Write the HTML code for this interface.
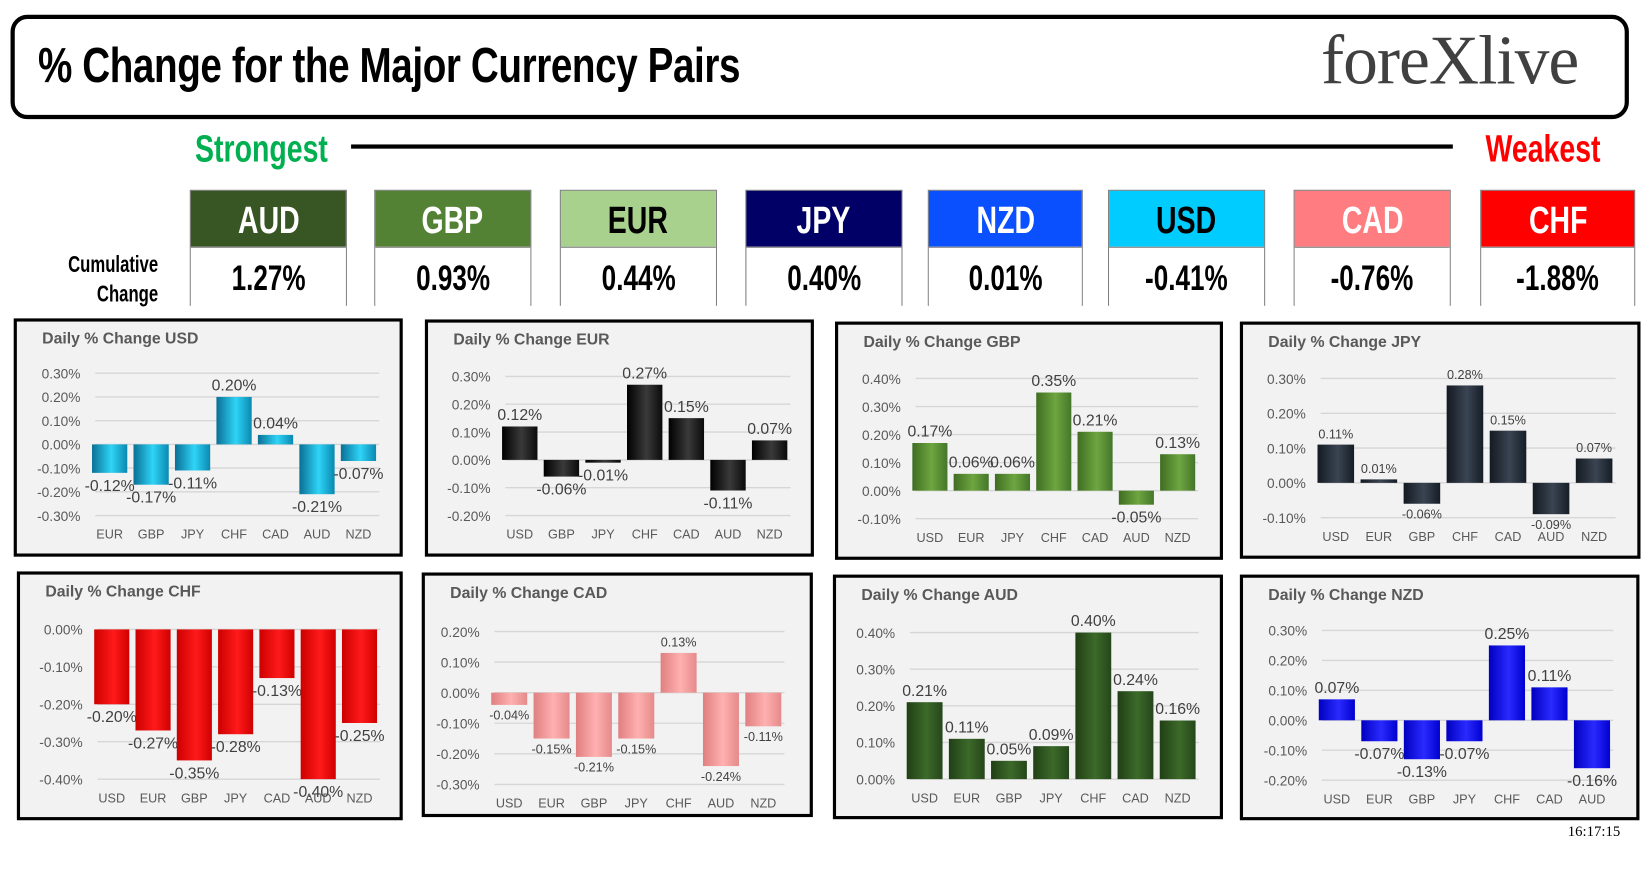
<!DOCTYPE html>
<html><head><meta charset="utf-8">
<style>
html,body{margin:0;padding:0;background:#fff;width:1650px;height:869px;overflow:hidden}
#wrap{position:absolute;left:0;top:0;width:1565px;height:824px;transform:scale(1.0543);transform-origin:0 0;font-family:"Liberation Sans",sans-serif}
.abs{position:absolute}
.hdr{left:10px;top:14px;width:1527px;height:91px;border:4px solid #000;border-radius:16px;box-sizing:content-box}
.title{left:36px;top:34px;font-weight:bold;font-size:47px;transform:scaleX(0.78);transform-origin:0 0;white-space:nowrap;letter-spacing:-0.5px}
.logo{left:1253px;top:20px;font-family:"Liberation Serif",serif;font-size:66px;color:#404040;letter-spacing:-1px}
.cond{font-weight:bold;transform:scaleX(0.72);white-space:nowrap}
.sq{display:inline-block;font-weight:bold;transform:scaleX(0.75);white-space:nowrap}
.card{width:147px;height:110px;border:1px solid #777;box-sizing:border-box}
.card .h{height:53px;line-height:55px;text-align:center;font-size:36px}
.card .v{height:56px;line-height:58px;text-align:center;font-size:33px;background:#fff;border-top:1px solid #777}
.panel{border:3px solid #000;background:#f2f2f2;box-sizing:border-box}
</style></head><body>
<div id="wrap">
<div class="abs hdr"></div>
<div class="abs title">% Change for the Major Currency Pairs</div>
<div class="abs logo">fore<span style="color:#404040">X</span>live</div>
<div class="abs cond" style="left:185px;top:120px;font-size:36px;color:#00b050;transform:scaleX(0.75);transform-origin:0 0">Strongest</div>
<div class="abs" style="left:333px;top:137px;width:1045px;height:4px;background:#000"></div>
<div class="abs cond" style="left:1409px;top:120px;font-size:36px;color:#f00;transform:scaleX(0.75);transform-origin:0 0">Weakest</div>
<div class="abs cond" style="left:0;width:150px;top:237px;font-size:22px;text-align:right;transform-origin:100% 0;line-height:28px">Cumulative<br>Change</div>
<div id="cards"></div>
<div id="panels"></div>
<div class="abs" style="left:1487px;top:782px;font-family:'Liberation Serif',serif;font-size:14px">16:17:15</div>
</div>
<script>
const cardCur=["AUD","GBP","EUR","JPY","NZD","USD","CAD","CHF"];
const cardVals=["1.27%","0.93%","0.44%","0.40%","0.01%","-0.41%","-0.76%","-1.88%"];
const cardX=[180,355,531,707,880,1051,1227,1404];
const cardBg=["#375623","#548235","#a9d18e","#000066","#0a50ff","#00ccff","#ff7c80","#ff0000"];
const cardFg=["#fff","#fff","#000","#fff","#fff","#000","#fff","#fff"];
const cc=document.getElementById('cards');
cardCur.forEach((c,i)=>{
 const d=document.createElement('div');
 d.className='abs card';d.style.left=cardX[i]+'px';d.style.top='180px';d.style.width=(i==4||i==7?147:149)+'px';
 
 
 d.innerHTML='<div class="h" style="background:'+cardBg[i]+';color:'+cardFg[i]+'"><span class="sq">'+c+'</span></div><div class="v"><span class="sq">'+cardVals[i]+'</span></div>';
 cc.appendChild(d);
});

// chart data
const usdCats=["EUR","GBP","JPY","CHF","CAD","AUD","NZD"], usdVals=[-0.12,-0.17,-0.11,0.20,0.04,-0.21,-0.07], usdTicks=[0.3,0.2,0.1,0,-0.1,-0.2,-0.3];
const eurCats=["USD","GBP","JPY","CHF","CAD","AUD","NZD"], eurVals=[0.12,-0.06,-0.01,0.27,0.15,-0.11,0.07], eurTicks=[0.3,0.2,0.1,0,-0.1,-0.2];
const gbpCats=["USD","EUR","JPY","CHF","CAD","AUD","NZD"], gbpVals=[0.17,0.06,0.06,0.35,0.21,-0.05,0.13], gbpTicks=[0.4,0.3,0.2,0.1,0,-0.1];
const jpyCats=["USD","EUR","GBP","CHF","CAD","AUD","NZD"], jpyVals=[0.11,0.01,-0.06,0.28,0.15,-0.09,0.07], jpyTicks=[0.3,0.2,0.1,0,-0.1];
const chfCats=["USD","EUR","GBP","JPY","CAD","AUD","NZD"], chfVals=[-0.20,-0.27,-0.35,-0.28,-0.13,-0.40,-0.25], chfTicks=[0,-0.1,-0.2,-0.3,-0.4];
const cadCats=["USD","EUR","GBP","JPY","CHF","AUD","NZD"], cadVals=[-0.04,-0.15,-0.21,-0.15,0.13,-0.24,-0.11], cadTicks=[0.2,0.1,0,-0.1,-0.2,-0.3];
const audCats=["USD","EUR","GBP","JPY","CHF","CAD","NZD"], audVals=[0.21,0.11,0.05,0.09,0.40,0.24,0.16], audTicks=[0.4,0.3,0.2,0.1,0];
const nzdCats=["USD","EUR","GBP","JPY","CHF","CAD","AUD"], nzdVals=[0.07,-0.07,-0.13,-0.07,0.25,0.11,-0.16], nzdTicks=[0.3,0.2,0.1,0,-0.1,-0.2];

const panels=[
 {n:"usd",x:13,y:302,w:369,h:226,cats:usdCats,vals:usdVals,ticks:usdTicks,yT:354,yB:489,x0:104,x1:340,c:["#0a6f95","#2fd4f7","#0a88b0"],s:false},
 {n:"eur",x:403,y:303,w:369,h:225,cats:eurCats,vals:eurVals,ticks:eurTicks,yT:357,yB:489,x0:493,x1:730,c:["#000","#3a3a3a","#0a0a0a"],s:false},
 {n:"gbp",x:792,y:305,w:368,h:226,cats:gbpCats,vals:gbpVals,ticks:gbpTicks,yT:359,yB:492,x0:882,x1:1117,c:["#3f6d22","#6ea640","#44762a"],s:false},
 {n:"jpy",x:1176,y:305,w:380,h:225,cats:jpyCats,vals:jpyVals,ticks:jpyTicks,yT:359,yB:491,x0:1267,x1:1512,c:["#141a22","#3a4452","#161d26"],s:true},
 {n:"chf",x:16,y:542,w:366,h:236,cats:chfCats,vals:chfVals,ticks:chfTicks,yT:597,yB:739,x0:106,x1:341,c:["#cc0000","#ff1a1a","#d00000"],s:false},
 {n:"cad",x:400,y:543,w:371,h:232,cats:cadCats,vals:cadVals,ticks:cadTicks,yT:599,yB:744,x0:483,x1:724,c:["#e07f80","#ffb0b0","#e58a8a"],s:true},
 {n:"aud",x:790,y:545,w:370,h:232,cats:audCats,vals:audVals,ticks:audTicks,yT:600,yB:739,x0:877,x1:1117,c:["#213f15","#3c6a2a","#25461a"],s:false},
 {n:"nzd",x:1176,y:545,w:379,h:233,cats:nzdCats,vals:nzdVals,ticks:nzdTicks,yT:598,yB:740,x0:1268,x1:1510,c:["#0000c0","#2a2aff","#0000d0"],s:false}
];
const titles={usd:"USD",eur:"EUR",gbp:"GBP",jpy:"JPY",chf:"CHF",cad:"CAD",aud:"AUD",nzd:"NZD"};
const NS="http://www.w3.org/2000/svg";
const pc=document.getElementById('panels');
panels.forEach(p=>{
 const d=document.createElement('div');
 d.className='abs panel';d.style.left=p.x+'px';d.style.top=p.y+'px';d.style.width=p.w+'px';d.style.height=p.h+'px';
 
 
 pc.appendChild(d);
 const svg=document.createElementNS(NS,'svg');
 svg.setAttribute('width',p.w);svg.setAttribute('height',p.h);
 svg.style.position='absolute';svg.style.left='-3px';svg.style.top='-3px';
 d.appendChild(svg);
 const ox=p.x,oy=p.y;
 const gid='g'+p.n;
 const defs=document.createElementNS(NS,'defs');
 defs.innerHTML='<linearGradient id="'+gid+'" x1="0" x2="1" y1="0" y2="0"><stop offset="0" stop-color="'+p.c[0]+'"/><stop offset="0.55" stop-color="'+p.c[1]+'"/><stop offset="1" stop-color="'+p.c[2]+'"/></linearGradient>';
 svg.appendChild(defs);
 const t=document.createElementNS(NS,'text');
 t.setAttribute('x',27);t.setAttribute('y',24);t.setAttribute('font-size','15');t.setAttribute('font-weight','bold');t.setAttribute('fill','#595959');
 t.textContent='Daily % Change '+titles[p.n];
 
 
 svg.appendChild(t);
 const tmax=p.ticks[0],tmin=p.ticks[p.ticks.length-1];
 const Y=v=>p.yT+(tmax-v)/(tmax-tmin)*(p.yB-p.yT)-oy;
 const step=(p.x1-p.x0)/(p.cats.length-1);
 const X=i=>p.x0+i*step-ox;
 const fs=p.s?12:15;
 p.ticks.forEach(v=>{
  const y=Y(v);
  const l=document.createElementNS(NS,'line');
  l.setAttribute('x1',X(0)-step/2+6);l.setAttribute('x2',X(p.cats.length-1)+step/2);l.setAttribute('y1',y);l.setAttribute('y2',y);
  l.setAttribute('stroke','#d6d6d6');l.setAttribute('stroke-width','1.3');
  
  
  svg.appendChild(l);
  const tx=document.createElementNS(NS,'text');
  tx.setAttribute('x',X(0)-step/2-8);tx.setAttribute('y',y+5);tx.setAttribute('text-anchor','end');tx.setAttribute('font-size','13');tx.setAttribute('fill','#595959');
  tx.textContent=v.toFixed(2)+'%';
  
  
  svg.appendChild(tx);
 });
 const bw=step*0.85;
 p.vals.forEach((v,i)=>{
  const y0=Y(0),y1=Y(v);
  const r=document.createElementNS(NS,'rect');
  r.setAttribute('x',X(i)-bw/2);r.setAttribute('width',bw);
  r.setAttribute('y',Math.min(y0,y1));r.setAttribute('height',Math.max(1.5,Math.abs(y1-y0)));
  r.setAttribute('fill','url(#'+gid+')');
  
  
  svg.appendChild(r);
  const lb=document.createElementNS(NS,'text');
  lb.setAttribute('x',X(i));lb.setAttribute('text-anchor','middle');lb.setAttribute('font-size',fs);lb.setAttribute('fill','#404040');
  lb.setAttribute('y',v>=0?y1-6:y1+fs+2);
  lb.textContent=v.toFixed(2)+'%';
  
  
  svg.appendChild(lb);
  const cl=document.createElementNS(NS,'text');
  cl.setAttribute('x',X(i));cl.setAttribute('y',p.yB-oy+22);cl.setAttribute('text-anchor','middle');cl.setAttribute('font-size','12');cl.setAttribute('fill','#595959');
  cl.textContent=p.cats[i];
  
  
  svg.appendChild(cl);
 });
});
</script>
</body></html>
